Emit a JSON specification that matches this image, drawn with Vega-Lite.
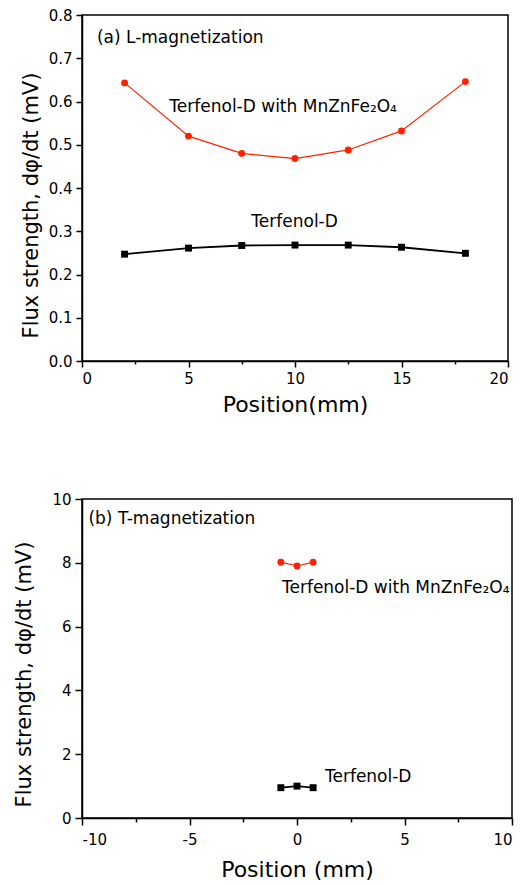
{
  "$schema": "https://vega.github.io/schema/vega-lite/v6.json",
  "padding": {"left": 13, "top": 7, "right": 0, "bottom": 2},
  "background": "white",
  "spacing": 75,
  "config": {
    "view": {"stroke": "black", "strokeWidth": 1.5},
    "axis": {
      "grid": false,
      "domainColor": "black",
      "domainWidth": 1.5,
      "tickColor": "black",
      "tickWidth": 1.5,
      "labelFont": "DejaVu Sans",
      "labelFontSize": 15,
      "labelColor": "black",
      "labelPadding": 4,
      "titleFont": "DejaVu Sans",
      "titleFontSize": 22,
      "titleFontWeight": "normal",
      "titleColor": "black"
    },
    "text": {"font": "DejaVu Sans", "fontSize": 17, "color": "black"}
  },
  "datasets": {
    "top": [
      {"pos": 2, "flux": 0.643, "sample": "Terfenol-D with MnZnFe2O4"},
      {"pos": 5, "flux": 0.52, "sample": "Terfenol-D with MnZnFe2O4"},
      {"pos": 7.5, "flux": 0.48, "sample": "Terfenol-D with MnZnFe2O4"},
      {"pos": 10, "flux": 0.468, "sample": "Terfenol-D with MnZnFe2O4"},
      {"pos": 12.5, "flux": 0.488, "sample": "Terfenol-D with MnZnFe2O4"},
      {"pos": 15, "flux": 0.532, "sample": "Terfenol-D with MnZnFe2O4"},
      {"pos": 18, "flux": 0.646, "sample": "Terfenol-D with MnZnFe2O4"},
      {"pos": 2, "flux": 0.247, "sample": "Terfenol-D"},
      {"pos": 5, "flux": 0.261, "sample": "Terfenol-D"},
      {"pos": 7.5, "flux": 0.267, "sample": "Terfenol-D"},
      {"pos": 10, "flux": 0.268, "sample": "Terfenol-D"},
      {"pos": 12.5, "flux": 0.268, "sample": "Terfenol-D"},
      {"pos": 15, "flux": 0.263, "sample": "Terfenol-D"},
      {"pos": 18, "flux": 0.249, "sample": "Terfenol-D"}
    ],
    "bottom": [
      {"pos": -0.75, "flux": 8.02, "sample": "Terfenol-D with MnZnFe2O4"},
      {"pos": 0, "flux": 7.9, "sample": "Terfenol-D with MnZnFe2O4"},
      {"pos": 0.75, "flux": 8.02, "sample": "Terfenol-D with MnZnFe2O4"},
      {"pos": -0.75, "flux": 0.95, "sample": "Terfenol-D"},
      {"pos": 0, "flux": 1.0, "sample": "Terfenol-D"},
      {"pos": 0.75, "flux": 0.95, "sample": "Terfenol-D"}
    ],
    "topLabels": [
      {"x": 0.7, "y": 0.747, "text": "(a) L-magnetization"},
      {"x": 4.1, "y": 0.587, "text": "Terfenol-D with MnZnFe₂O₄"},
      {"x": 7.95, "y": 0.321, "text": "Terfenol-D"}
    ],
    "bottomLabels": [
      {"x": -9.7, "y": 9.37, "text": "(b) T-magnetization"},
      {"x": -0.7, "y": 7.2, "text": "Terfenol-D with MnZnFe₂O₄"},
      {"x": 1.3, "y": 1.29, "text": "Terfenol-D"}
    ]
  },
  "vconcat": [
    {
      "width": 426,
      "height": 346,
      "layer": [
        {
          "data": {"name": "top"},
          "mark": {"type": "line"},
          "encoding": {
            "x": {"field": "pos", "type": "quantitative",
              "scale": {"domain": [0, 20], "nice": false, "zero": false},
              "axis": {"title": "Position(mm)", "values": [0, 2.5, 5, 7.5, 10, 12.5, 15, 17.5, 20],
                "labelExpr": "datum.value % 5 == 0 ? '' + datum.value : ''",
                "tickSize": {"condition": {"test": "datum.value % 5 != 0", "value": 3}, "value": 6},
                "titlePadding": 8}},
            "y": {"field": "flux", "type": "quantitative",
              "scale": {"domain": [0, 0.8], "nice": false, "zero": false},
              "axis": {"title": "Flux strength, dφ/dt (mV)", "titleY": 190, "titleFontSize": 21,
                "values": [0, 0.05, 0.1, 0.15, 0.2, 0.25, 0.3, 0.35, 0.4, 0.45, 0.5, 0.55, 0.6, 0.65, 0.7, 0.75, 0.8],
                "labelExpr": "abs(datum.value * 10 - round(datum.value * 10)) < 0.01 ? format(datum.value, '.1f') : ''",
                "tickSize": {"condition": {"test": "abs(datum.value * 10 - round(datum.value * 10)) > 0.01", "value": 3}, "value": 6},
                "titlePadding": 7}},
            "color": {"field": "sample", "type": "nominal",
              "scale": {"domain": ["Terfenol-D with MnZnFe2O4", "Terfenol-D"], "range": ["#ff2200", "black"]},
              "legend": null},
            "strokeWidth": {"field": "sample", "type": "nominal",
              "scale": {"domain": ["Terfenol-D with MnZnFe2O4", "Terfenol-D"], "range": [1.2, 1.8]},
              "legend": null}
          }
        },
        {
          "data": {"name": "top"},
          "mark": {"type": "point", "filled": true, "opacity": 1, "size": 48},
          "encoding": {
            "x": {"field": "pos", "type": "quantitative"},
            "y": {"field": "flux", "type": "quantitative"},
            "color": {"field": "sample", "type": "nominal", "legend": null},
            "shape": {"field": "sample", "type": "nominal",
              "scale": {"domain": ["Terfenol-D with MnZnFe2O4", "Terfenol-D"], "range": ["circle", "square"]},
              "legend": null}
          }
        },
        {
          "data": {"name": "topLabels"},
          "mark": {"type": "text", "align": "left", "baseline": "middle"},
          "encoding": {
            "x": {"field": "x", "type": "quantitative"},
            "y": {"field": "y", "type": "quantitative"},
            "text": {"field": "text", "type": "nominal"}
          }
        }
      ]
    },
    {
      "width": 430,
      "height": 319,
      "layer": [
        {
          "data": {"name": "bottom"},
          "mark": {"type": "line"},
          "encoding": {
            "x": {"field": "pos", "type": "quantitative",
              "scale": {"domain": [-10, 10], "nice": false, "zero": false},
              "axis": {"title": "Position (mm)", "values": [-10, -7.5, -5, -2.5, 0, 2.5, 5, 7.5, 10],
                "labelExpr": "datum.value % 5 == 0 ? '' + datum.value : ''",
                "tickSize": {"condition": {"test": "datum.value % 5 != 0", "value": 4}, "value": 7},
                "labelPadding": 7,
                "titlePadding": 12}},
            "y": {"field": "flux", "type": "quantitative",
              "scale": {"domain": [0, 10], "nice": false, "zero": false},
              "axis": {"title": "Flux strength, dφ/dt (mV)", "titleY": 175, "titleFontSize": 21,
                "values": [0, 1, 2, 3, 4, 5, 6, 7, 8, 9, 10],
                "labelExpr": "datum.value % 2 == 0 ? '' + datum.value : ''",
                "tickSize": {"condition": {"test": "datum.value % 2 != 0", "value": 4}, "value": 7},
                "titlePadding": 17}},
            "color": {"field": "sample", "type": "nominal",
              "scale": {"domain": ["Terfenol-D with MnZnFe2O4", "Terfenol-D"], "range": ["#ff2200", "black"]},
              "legend": null},
            "strokeWidth": {"field": "sample", "type": "nominal",
              "scale": {"domain": ["Terfenol-D with MnZnFe2O4", "Terfenol-D"], "range": [1.2, 1.8]},
              "legend": null}
          }
        },
        {
          "data": {"name": "bottom"},
          "mark": {"type": "point", "filled": true, "opacity": 1, "size": 48},
          "encoding": {
            "x": {"field": "pos", "type": "quantitative"},
            "y": {"field": "flux", "type": "quantitative"},
            "color": {"field": "sample", "type": "nominal", "legend": null},
            "shape": {"field": "sample", "type": "nominal",
              "scale": {"domain": ["Terfenol-D with MnZnFe2O4", "Terfenol-D"], "range": ["circle", "square"]},
              "legend": null}
          }
        },
        {
          "data": {"name": "bottomLabels"},
          "mark": {"type": "text", "align": "left", "baseline": "middle"},
          "encoding": {
            "x": {"field": "x", "type": "quantitative"},
            "y": {"field": "y", "type": "quantitative"},
            "text": {"field": "text", "type": "nominal"}
          }
        }
      ]
    }
  ]
}
